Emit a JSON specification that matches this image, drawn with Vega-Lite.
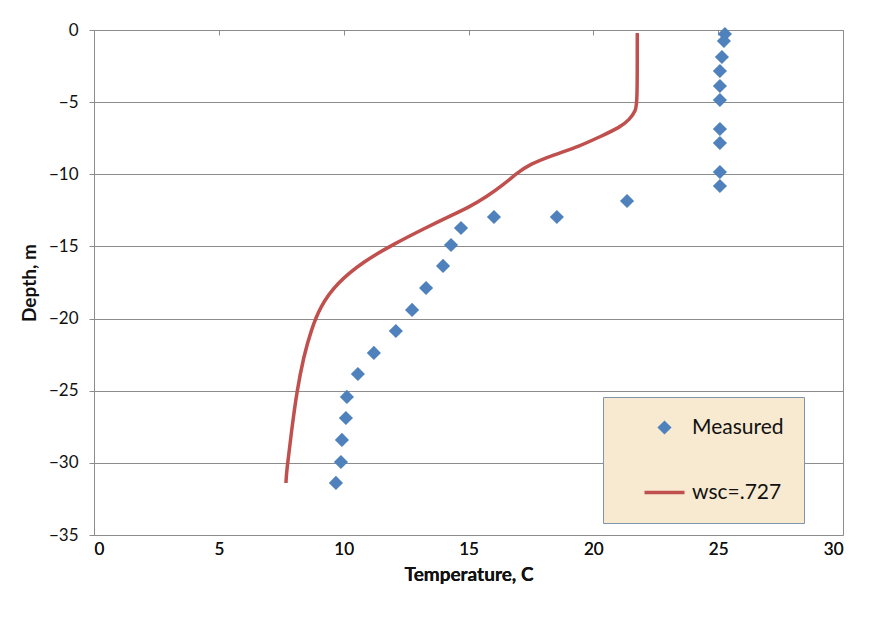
{
  "$schema": "https://vega.github.io/schema/vega-lite/v6.json",
  "width": 749,
  "height": 505,
  "autosize": {"type": "none"},
  "padding": {"left": 94, "top": 30, "right": 40, "bottom": 89},
  "background": "white",
  "config": {
    "font": "Lato",
    "view": {"stroke": "#8c8c8c", "strokeWidth": 1},
    "axis": {
      "labelFont": "Lato",
      "labelFontSize": 17,
      "labelColor": "#111111",
      "titleFont": "Lato",
      "titleFontSize": 19,
      "titleFontWeight": "bold",
      "titleColor": "#111111",
      "domainColor": "#8c8c8c",
      "tickColor": "#8c8c8c",
      "gridColor": "#8c8c8c",
      "gridWidth": 1
    }
  },
  "datasets": {
    "measured": [
      {"temp": 25.27, "depth": -0.28, "series": "Measured"},
      {"temp": 25.23, "depth": -0.76, "series": "Measured"},
      {"temp": 25.15, "depth": -1.87, "series": "Measured"},
      {"temp": 25.07, "depth": -2.84, "series": "Measured"},
      {"temp": 25.07, "depth": -3.88, "series": "Measured"},
      {"temp": 25.07, "depth": -4.85, "series": "Measured"},
      {"temp": 25.07, "depth": -6.86, "series": "Measured"},
      {"temp": 25.07, "depth": -7.83, "series": "Measured"},
      {"temp": 25.07, "depth": -9.84, "series": "Measured"},
      {"temp": 25.07, "depth": -10.81, "series": "Measured"},
      {"temp": 21.35, "depth": -11.85, "series": "Measured"},
      {"temp": 18.54, "depth": -12.96, "series": "Measured"},
      {"temp": 16.02, "depth": -12.96, "series": "Measured"},
      {"temp": 14.7, "depth": -13.72, "series": "Measured"},
      {"temp": 14.3, "depth": -14.9, "series": "Measured"},
      {"temp": 13.98, "depth": -16.35, "series": "Measured"},
      {"temp": 13.3, "depth": -17.88, "series": "Measured"},
      {"temp": 12.74, "depth": -19.4, "series": "Measured"},
      {"temp": 12.09, "depth": -20.86, "series": "Measured"},
      {"temp": 11.21, "depth": -22.38, "series": "Measured"},
      {"temp": 10.57, "depth": -23.84, "series": "Measured"},
      {"temp": 10.13, "depth": -25.43, "series": "Measured"},
      {"temp": 10.09, "depth": -26.89, "series": "Measured"},
      {"temp": 9.93, "depth": -28.41, "series": "Measured"},
      {"temp": 9.89, "depth": -29.94, "series": "Measured"},
      {"temp": 9.69, "depth": -31.39, "series": "Measured"}
    ],
    "model": [
      {"temp": 21.76, "depth": -0.2, "series": "wsc=.727"},
      {"temp": 21.76, "depth": -0.3, "series": "wsc=.727"},
      {"temp": 21.76, "depth": -5.0, "series": "wsc=.727"},
      {"temp": 21.7, "depth": -5.6, "series": "wsc=.727"},
      {"temp": 21.45, "depth": -6.2, "series": "wsc=.727"},
      {"temp": 21.07, "depth": -6.75, "series": "wsc=.727"},
      {"temp": 20.26, "depth": -7.4, "series": "wsc=.727"},
      {"temp": 19.46, "depth": -8.05, "series": "wsc=.727"},
      {"temp": 18.39, "depth": -8.66, "series": "wsc=.727"},
      {"temp": 17.46, "depth": -9.3, "series": "wsc=.727"},
      {"temp": 16.93, "depth": -9.93, "series": "wsc=.727"},
      {"temp": 16.39, "depth": -10.74, "series": "wsc=.727"},
      {"temp": 15.73, "depth": -11.55, "series": "wsc=.727"},
      {"temp": 15.0, "depth": -12.3, "series": "wsc=.727"},
      {"temp": 14.25, "depth": -12.9, "series": "wsc=.727"},
      {"temp": 13.3, "depth": -13.7, "series": "wsc=.727"},
      {"temp": 11.99, "depth": -14.85, "series": "wsc=.727"},
      {"temp": 10.79, "depth": -16.05, "series": "wsc=.727"},
      {"temp": 9.72, "depth": -17.55, "series": "wsc=.727"},
      {"temp": 9.05, "depth": -19.2, "series": "wsc=.727"},
      {"temp": 8.7, "depth": -20.8, "series": "wsc=.727"},
      {"temp": 8.4, "depth": -22.6, "series": "wsc=.727"},
      {"temp": 8.12, "depth": -25.1, "series": "wsc=.727"},
      {"temp": 7.92, "depth": -27.7, "series": "wsc=.727"},
      {"temp": 7.72, "depth": -30.5, "series": "wsc=.727"},
      {"temp": 7.69, "depth": -31.3, "series": "wsc=.727"},
      {"temp": 7.69, "depth": -31.4, "series": "wsc=.727"}
    ]
  },
  "encoding": {
    "x": {
      "field": "temp",
      "type": "quantitative",
      "scale": {"domain": [0, 30], "nice": false, "zero": false},
      "axis": {
        "title": "Temperature, C",
        "values": [0, 5, 10, 15, 20, 25, 30],
        "orient": "bottom",
        "domain": false,
        "ticks": false,
        "grid": false,
        "labelPadding": 6,
        "titlePadding": 8
      }
    },
    "y": {
      "field": "depth",
      "type": "quantitative",
      "scale": {"domain": [-35, 0], "nice": false, "zero": false},
      "axis": {
        "title": "Depth, m",
        "values": [-35, -30, -25, -20, -15, -10, -5, 0],
        "grid": true,
        "tickSize": 5,
        "labelPadding": 11,
        "titlePadding": 9
      }
    },
    "color": {
      "field": "series",
      "type": "nominal",
      "scale": {"domain": ["Measured", "wsc=.727"], "range": ["#4f81bd", "#c0504d"]},
      "legend": {
        "title": null,
        "orient": "none",
        "legendX": 509,
        "legendY": 367,
        "padding": 20,
        "symbolOffset": 31,
        "symbolSize": 1600,
        "labelOffset": 17,
        "rowPadding": 43,
        "labelFont": "Lato",
        "labelFontSize": 21,
        "labelColor": "#111111",
        "fillColor": "#f7ead0",
        "strokeColor": "#7f95ab",
        "encode": {
          "symbols": {
            "update": {
              "stroke": {"scale": "color", "field": "value"},
              "strokeWidth": {"signal": "datum.value == 'Measured' ? 0 : 3.5"},
              "size": {"signal": "datum.value == 'Measured' ? 200 : 1600"}
            }
          }
        }
      }
    }
  },
  "layer": [
    {
      "data": {"name": "model"},
      "mark": {"type": "line", "strokeWidth": 3.5, "interpolate": "basis"},
      "encoding": {
        "order": {"field": "depth", "sort": "descending"}
      }
    },
    {
      "data": {"name": "measured"},
      "mark": {"type": "point", "filled": true, "opacity": 1, "size": 200},
      "encoding": {
        "shape": {
          "field": "series",
          "type": "nominal",
          "scale": {"domain": ["Measured", "wsc=.727"], "range": ["diamond", "stroke"]},
          "legend": null
        }
      }
    },
    {
      "data": {"name": "measured"},
      "mark": {"type": "rule", "opacity": 0},
      "encoding": {
        "x": {
          "field": "temp",
          "type": "quantitative",
          "axis": {
            "orient": "top",
            "values": [0, 5, 10, 15, 20, 25, 30],
            "labels": false,
            "title": null,
            "domain": true,
            "ticks": true,
            "tickSize": -5,
            "grid": false
          }
        },
        "y": {"field": "depth", "type": "quantitative"},
        "color": {"value": "transparent"}
      }
    }
  ]
}
